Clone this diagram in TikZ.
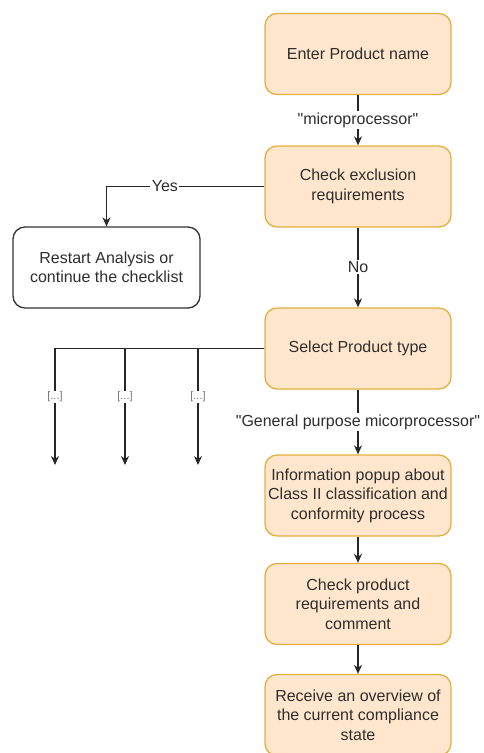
\documentclass[tikz,border=0pt]{standalone}
\usepackage{fontspec}
\setmainfont{Liberation Sans}
\usetikzlibrary{arrows.meta}
\definecolor{boxfill}{HTML}{FFE6CC}
\definecolor{boxline}{HTML}{E3B040}
\definecolor{txt}{HTML}{2E2E2E}
\begin{document}
\begin{tikzpicture}[x=1pt,y=-1pt,
  every node/.style={text=txt, font=\fontsize{16}{19.5}\selectfont},
  stepbox/.style={draw=boxline, fill=boxfill, line width=1.3pt, rounded corners=12pt,
    minimum width=186pt, minimum height=81pt, align=center, inner sep=2pt},
  plainbox/.style={draw=black!80, fill=white, line width=1.3pt, rounded corners=12pt,
    minimum width=187pt, minimum height=81pt, align=center, inner sep=2pt},
  conn/.style={draw=black!85, line width=1.3pt, -{Stealth[length=9pt,width=8pt]}},
  lbl/.style={fill=white, inner sep=1.5pt},
  small/.style={fill=white, inner sep=1pt, text=black!55, font=\fontsize{11}{13}\selectfont}]
\useasboundingbox (0,0) rectangle (483,753);
\clip (0,0) rectangle (483,753);
\node[stepbox] (b1) at (358,54) {Enter Product name};
\node[stepbox] (b2) at (358,186.5) {Check exclusion\\requirements};
\node[plainbox] (r) at (106.5,267.5) {Restart Analysis or\\continue the checklist};
\node[stepbox] (b3) at (358,348.5) {Select Product type};
\node[stepbox] (b4) at (358,495.5) {Information popup about\\Class II classification and\\conformity process};
\node[stepbox] (b5) at (358,604) {Check product\\requirements and\\comment};
\node[stepbox] (b6) at (358,715) {Receive an overview of\\the current compliance\\state};
\coordinate (e1) at (55,465);
\coordinate (e2) at (125,465);
\coordinate (e3) at (198,465);

\draw[conn] (b1) -- node[lbl, pos=0.5] {\textquotedbl microprocessor\textquotedbl} (b2);
\draw[conn] (b2.west) -| node[lbl, pos=0.315] {Yes} (r.north);
\draw[conn] (b2) -- node[lbl, pos=0.49] {No} (b3);
\draw[conn] (b3.west) -| node[small, pos=0.707] {[...]} (e1);
\draw[conn] (b3.west) -| node[small, pos=0.707] {[...]} (e2);
\draw[conn] (b3.west) -| node[small, pos=0.707] {[...]} (e3);
\draw[conn] (b3) -- node[lbl, pos=0.5] {\textquotedbl General purpose micorprocessor\textquotedbl} (b4);
\draw[conn] (b4) -- (b5);
\draw[conn] (b5) -- (b6);
\end{tikzpicture}
\end{document}
